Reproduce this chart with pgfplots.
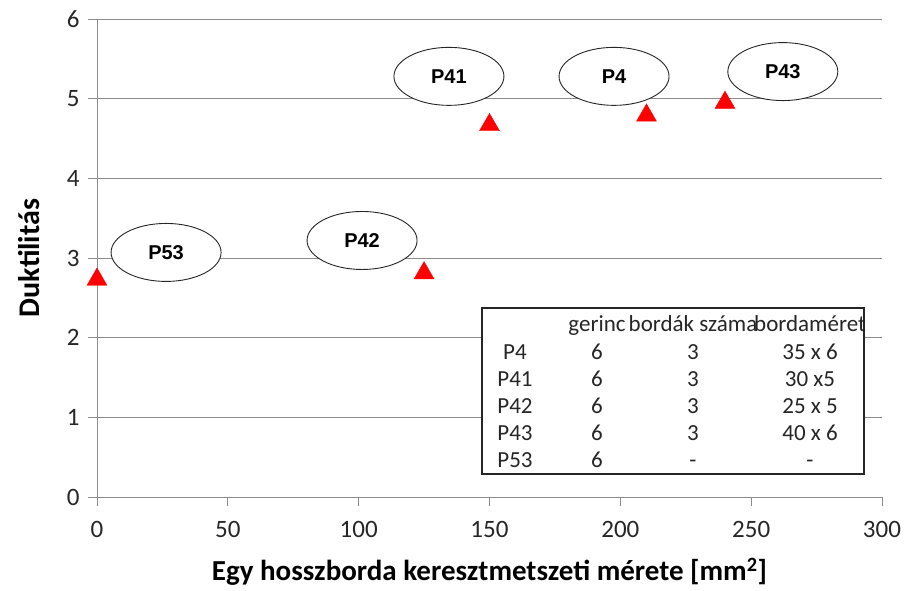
\documentclass[border=0pt]{standalone}
\usepackage{fontspec}
\setmainfont{Carlito}
\newfontfamily\arialfont{Liberation Sans}
\usepackage{pgfplots}
\pgfplotsset{compat=1.18}
\usetikzlibrary{shapes.geometric}
\definecolor{gridc}{HTML}{8C8C8C}
\begin{document}
\begin{tikzpicture}[x=1pt,y=1pt]
\useasboundingbox (-97,-93) rectangle (811,497);
\begin{axis}[
  at={(0,0)}, anchor=south west,
  scale only axis, width=785pt, height=478pt,
  xmin=0, xmax=300, ymin=0, ymax=6,
  xtick={0,50,...,300}, ytick={0,1,...,6},
  axis lines*=left,
  axis line style={gridc, line width=0.8pt},
  tick style={gridc, line width=0.8pt},
  tick align=outside, major tick length=9pt,
  ymajorgrids, grid style={gridc, line width=0.8pt},
  /pgf/number format/assume math mode=true,
  tick label style={font=\fontsize{25}{28}\selectfont, text=black!85},
  xticklabel style={yshift=-12pt},
  yticklabel style={xshift=-5pt},
  xlabel={\textbf{Egy hosszborda keresztmetszeti mérete [mm\textsuperscript{2}]}},
  ylabel={\textbf{Duktilitás}},
  every axis x label/.style={at={(axis description cs:0.5,-0.157)}, anchor=center, inner sep=1pt, font=\fontsize{29}{32}\selectfont},
  every axis y label/.style={at={(axis description cs:-0.086,0.5)}, rotate=90, anchor=center, font=\fontsize{30}{34}\selectfont},
  clip=false,
]
\addplot[only marks, mark=triangle*, mark size=11.5pt, color=red, mark options={fill=red, draw=red}] coordinates {
  (0,2.73) (125,2.81) (150,4.67) (210,4.79) (240,4.95)
};
\begin{scope}[every node/.style={draw=black!85, line width=0.9pt, fill=white, ellipse, minimum width=110pt, minimum height=58pt, inner sep=0pt, font=\arialfont\bfseries\fontsize{20}{23}\selectfont}]
\node at (axis cs:26.4,3.07) {P53};
\node at (axis cs:101.3,3.22) {P42};
\node at (axis cs:134.5,5.28) {P41};
\node at (axis cs:197.6,5.28) {P4};
\node at (axis cs:262.1,5.34) {P43};
\end{scope}
\end{axis}
\draw[black!85, line width=1.4pt, fill=white] (385,23) rectangle (767,189);
\begin{scope}[every node/.style={font=\fontsize{23}{26}\selectfont, text=black!85, inner sep=0pt, anchor=base}]
\node at (500,166) {gerinc};
\node at (596,166) {bordák száma};
\node at (713,166) {bordaméret};
\node at (418,138) {P4};   \node at (500,138) {6}; \node at (596,138) {3}; \node at (713,138) {35 x 6};
\node at (418,111) {P41};  \node at (500,111) {6}; \node at (596,111) {3}; \node at (713,111) {30 x5};
\node at (418,84) {P42};   \node at (500,84) {6};  \node at (596,84) {3};  \node at (713,84) {25 x 5};
\node at (418,57) {P43};   \node at (500,57) {6};  \node at (596,57) {3};  \node at (713,57) {40 x 6};
\node at (418,30) {P53};   \node at (500,30) {6};  \node at (596,30) {-};  \node at (713,30) {-};
\end{scope}
\end{tikzpicture}
\end{document}
